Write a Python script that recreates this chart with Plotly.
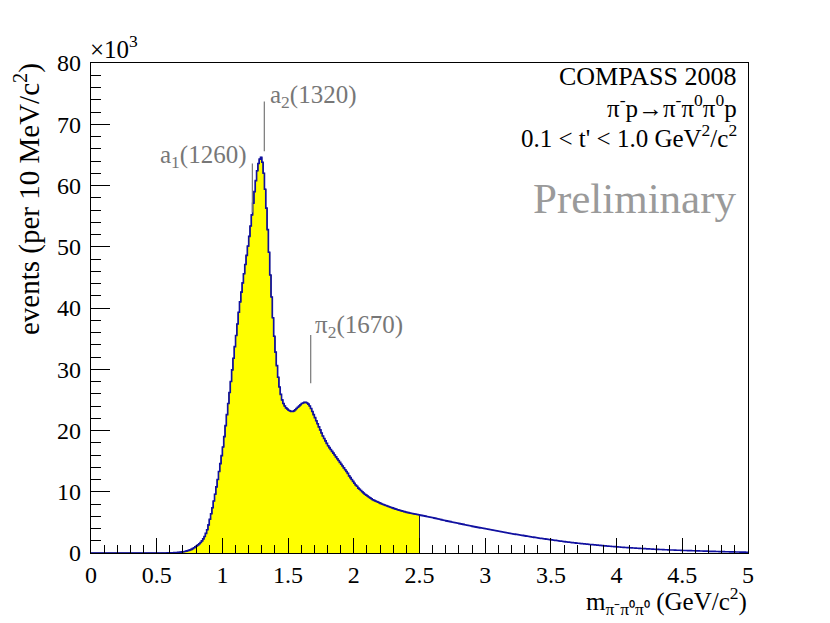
import plotly.graph_objects as go

# Histogram: 10 MeV bins, values in units of 10^3 events, first bin starts at 0.50 GeV
bin_width = 0.01
first_edge = 0.50
counts_k = [
    0, 0, 0, 0, 0, 0.01, 0.01, 0.01, 0.02, 0.02,                       # 0.5
    0.03, 0.04, 0.05, 0.06, 0.07, 0.09, 0.11, 0.13, 0.15, 0.18,         # 0.6
    0.21, 0.25, 0.30, 0.36, 0.43, 0.51, 0.60, 0.72, 0.86, 1.00,         # 0.7
    1.15, 1.32, 1.50, 1.72, 1.98, 2.30, 2.70, 3.20, 3.80, 4.60,         # 0.8
    5.50, 6.40, 7.40, 8.50, 9.60, 10.8, 12.0, 13.3, 14.6, 15.9,         # 0.9
    17.3, 19.0, 20.8, 22.6, 24.4, 26.2, 28.0, 29.9, 31.8, 33.7,         # 1.0
    35.5, 37.4, 39.3, 41.0, 42.6, 44.1, 45.6, 47.1, 48.6, 50.1,         # 1.1
    51.7, 53.4, 55.2, 57.1, 59.0, 60.8, 62.4, 63.6, 64.3, 64.6,         # 1.2
    63.8, 62.0, 59.4, 56.3, 52.8, 49.1, 45.4, 41.8, 38.4, 35.4,         # 1.3
    32.8, 30.6, 28.7, 27.1, 25.9, 25.0, 24.4, 24.0, 23.7, 23.5,         # 1.4
    23.3, 23.2, 23.1, 23.1, 23.2, 23.4, 23.6, 23.8, 24.0, 24.2,         # 1.5
    24.4, 24.5, 24.6, 24.6, 24.5, 24.3, 24.0, 23.6, 23.1, 22.6,         # 1.6
    22.1, 21.6, 21.1, 20.6, 20.1, 19.6, 19.1, 18.7, 18.3, 17.9,         # 1.7
    17.5, 17.2, 16.9, 16.6, 16.3, 16.0, 15.7, 15.4, 15.1, 14.8,         # 1.8
    14.5, 14.2, 13.9, 13.6, 13.3, 13.0, 12.6, 12.3, 12.0, 11.7,         # 1.9
    11.4, 11.1, 10.9, 10.6, 10.4, 10.2, 10.0, 9.8, 9.6, 9.45,           # 2.0
    9.3, 9.15, 9.0, 8.85, 8.7, 8.6, 8.5, 8.4, 8.3, 8.2,                 # 2.1
    8.1, 8.0, 7.92, 7.84, 7.76, 7.68, 7.6, 7.52, 7.44, 7.36,            # 2.2
    7.28, 7.21, 7.14, 7.07, 7.0, 6.94, 6.88, 6.82, 6.76, 6.70,          # 2.3
    6.64, 6.59, 6.54, 6.49, 6.44, 6.40, 6.36, 6.32, 6.28, 6.24,         # 2.4
    6.20, 6.15, 6.11, 6.06, 6.02, 5.97, 5.93, 5.88, 5.84, 5.79,         # 2.5
    5.75, 5.70, 5.65, 5.60, 5.55, 5.50, 5.45, 5.40, 5.35, 5.30,         # 2.6
    5.25, 5.21, 5.16, 5.12, 5.07, 5.03, 4.98, 4.94, 4.89, 4.85,         # 2.7
    4.80, 4.76, 4.71, 4.67, 4.62, 4.58, 4.53, 4.49, 4.44, 4.40,         # 2.8
    4.35, 4.31, 4.27, 4.23, 4.19, 4.15, 4.11, 4.07, 4.03, 3.99,         # 2.9
    3.95, 3.91, 3.87, 3.83, 3.79, 3.75, 3.71, 3.67, 3.63, 3.59,         # 3.0
    3.55, 3.51, 3.47, 3.43, 3.39, 3.35, 3.31, 3.27, 3.23, 3.19,         # 3.1
    3.15, 3.11, 3.08, 3.04, 3.01, 2.97, 2.94, 2.90, 2.87, 2.83,         # 3.2
    2.80, 2.76, 2.73, 2.69, 2.66, 2.62, 2.59, 2.55, 2.52, 2.48,         # 3.3
    2.45, 2.42, 2.39, 2.36, 2.33, 2.30, 2.27, 2.24, 2.21, 2.18,         # 3.4
    2.15, 2.12, 2.09, 2.06, 2.03, 2.00, 1.97, 1.94, 1.91, 1.88,         # 3.5
    1.85, 1.82, 1.80, 1.77, 1.75, 1.72, 1.70, 1.67, 1.65, 1.62,         # 3.6
    1.60, 1.58, 1.56, 1.53, 1.51, 1.49, 1.47, 1.45, 1.42, 1.40,         # 3.7
    1.38, 1.36, 1.34, 1.32, 1.30, 1.28, 1.26, 1.24, 1.22, 1.20,         # 3.8
    1.18, 1.16, 1.14, 1.12, 1.11, 1.09, 1.07, 1.05, 1.04, 1.02,         # 3.9
    1.00, 0.98, 0.97, 0.95, 0.94, 0.92, 0.91, 0.89, 0.88, 0.86,         # 4.0
    0.85, 0.84, 0.82, 0.81, 0.80, 0.78, 0.77, 0.76, 0.74, 0.73,         # 4.1
    0.72, 0.71, 0.70, 0.68, 0.67, 0.66, 0.65, 0.64, 0.62, 0.61,         # 4.2
    0.60, 0.59, 0.58, 0.57, 0.56, 0.55, 0.54, 0.53, 0.52, 0.51,         # 4.3
    0.50, 0.49, 0.48, 0.48, 0.47, 0.46, 0.45, 0.44, 0.44, 0.43,         # 4.4
    0.42, 0.41, 0.41, 0.40, 0.39, 0.38, 0.38, 0.37, 0.36, 0.36,         # 4.5
    0.35, 0.34, 0.34, 0.33, 0.32, 0.32, 0.31, 0.30, 0.30, 0.29,         # 4.6
    0.28, 0.27, 0.27, 0.26, 0.26, 0.25, 0.24, 0.24, 0.23, 0.23,         # 4.7
    0.22, 0.22, 0.21, 0.21, 0.20, 0.20, 0.19, 0.19, 0.18, 0.18,         # 4.8
    0.17, 0.17, 0.16, 0.16, 0.15, 0.15, 0.14, 0.14, 0.13, 0.13,         # 4.9
]
fill_limit = 2.5  # yellow-filled region ends here

x_ticks = [0, 0.5, 1, 1.5, 2, 2.5, 3, 3.5, 4, 4.5, 5]
y_ticks = [0, 10, 20, 30, 40, 50, 60, 70, 80]

# resonance labels: (text, line x in GeV, line y-bottom, line y-top in 10^3)
resonances = [
    ("a<sub>1</sub>(1260)", 1.228, 55.6, 63.6),
    ("a<sub>2</sub>(1320)", 1.319, 65.6, 73.7),
    ("π<sub>2</sub>(1670)", 1.672, 27.7, 35.6),
]

# ---- build step paths ----
n = len(counts_k)
edges = [round(first_edge + i * bin_width, 4) for i in range(n + 1)]
xs = [0.0, first_edge] + edges[:-1] + [edges[-1]]
ys = [0.0, 0.0] + counts_k + [counts_k[-1]]

fx, fy = [], []
for xv, yv in zip(xs, ys):
    if xv < fill_limit - 1e-9:
        fx.append(xv); fy.append(yv)
fx += [fill_limit, fill_limit]
fy += [fy[-1], 0.0]

SERIF = "Liberation Serif, Times New Roman, serif"
fig = go.Figure()
fig.add_trace(go.Scatter(x=fx, y=fy, mode="lines", line_shape="hv",
                         fill="tozeroy", fillcolor="#ffff00",
                         line=dict(color="#1a1a40", width=1), hoverinfo="skip",
                         showlegend=False))
fig.add_trace(go.Scatter(x=xs, y=ys, mode="lines", line_shape="hv",
                         line=dict(color="#1010a0", width=1.6), showlegend=False))

W, H = 830, 623
L, R, T, B = 91, 748, 63, 553


def px(xp):
    return (xp - L) / (R - L)


def py(yp):
    return (B - yp) / (B - T)


ann = []
ann.append(dict(text="×10<sup>3</sup>", x=px(88), y=py(47), xanchor="left", yanchor="middle",
                font=dict(size=25, color="black")))
ann.append(dict(text="COMPASS 2008", x=px(739), y=py(76), xanchor="right", yanchor="middle",
                font=dict(size=26, color="black")))
ann.append(dict(text="π<sup>-</sup>p→π<sup>-</sup>π<sup>0</sup>π<sup>0</sup>p", x=px(739), y=py(106),
                xanchor="right", yanchor="middle", font=dict(size=25, color="black")))
ann.append(dict(text="0.1 < t' < 1.0 GeV<sup>2</sup>/c<sup>2</sup>", x=px(739), y=py(136),
                xanchor="right", yanchor="middle", font=dict(size=25, color="black")))
ann.append(dict(text="Preliminary", x=px(739), y=py(198), xanchor="right", yanchor="middle",
                font=dict(size=43, color="#9a9a9a")))
ann.append(dict(text=resonances[0][0], x=px(249), y=py(156), xanchor="right", yanchor="middle",
                font=dict(size=25, color="#777777")))
ann.append(dict(text=resonances[1][0], x=px(268), y=py(96), xanchor="left", yanchor="middle",
                font=dict(size=25, color="#777777")))
ann.append(dict(text=resonances[2][0], x=px(313), y=py(326), xanchor="left", yanchor="middle",
                font=dict(size=25, color="#777777")))
ann.append(dict(text="events (per 10 MeV/c<sup>2</sup>)", x=px(28), y=py(61), textangle=-90,
                xanchor="center", yanchor="top", font=dict(size=29, color="black")))
ann.append(dict(text="m<sub>π⁻π⁰π⁰</sub> (GeV/c<sup>2</sup>)", x=px(749), y=py(601),
                xanchor="right", yanchor="middle", font=dict(size=25, color="black")))
for a in ann:
    a.update(xref="paper", yref="paper", showarrow=False)

shapes = []
for _, lx, y0, y1 in resonances:
    shapes.append(dict(type="line", xref="x", yref="y", x0=lx, x1=lx, y0=y0, y1=y1,
                       line=dict(color="#777777", width=1.2)))

fig.update_layout(
    width=W, height=H,
    margin=dict(l=L, r=W - R, t=T, b=H - B, pad=0),
    paper_bgcolor="white", plot_bgcolor="white",
    font=dict(family=SERIF, size=24, color="black"),
    annotations=ann, shapes=shapes, showlegend=False,
)
fig.update_xaxes(range=[0, 5], tickvals=x_ticks, ticktext=[f"{v:g}" for v in x_ticks],
                 ticks="inside", ticklen=15, tickwidth=1.2, tickcolor="black",
                 minor=dict(dtick=0.1, ticks="inside", ticklen=8, tickwidth=1.2, tickcolor="black", showgrid=False),
                 showline=True, linecolor="black", linewidth=1.2, mirror=True,
                 showgrid=False, zeroline=False, tickfont=dict(size=24, family=SERIF))
fig.update_yaxes(range=[0, 80], tickvals=y_ticks, ticktext=[str(v) for v in y_ticks],
                 ticks="inside", ticklen=19, tickwidth=1.2, tickcolor="black",
                 minor=dict(dtick=2, ticks="inside", ticklen=10, tickwidth=1.2, tickcolor="black", showgrid=False),
                 showline=True, linecolor="black", linewidth=1.2, mirror=True,
                 showgrid=False, zeroline=False, ticklabelstandoff=4,
                 tickfont=dict(size=24, family=SERIF))

fig.write_html("out.html", config={"displayModeBar": False},
               post_script="document.body.style.margin='0';")
